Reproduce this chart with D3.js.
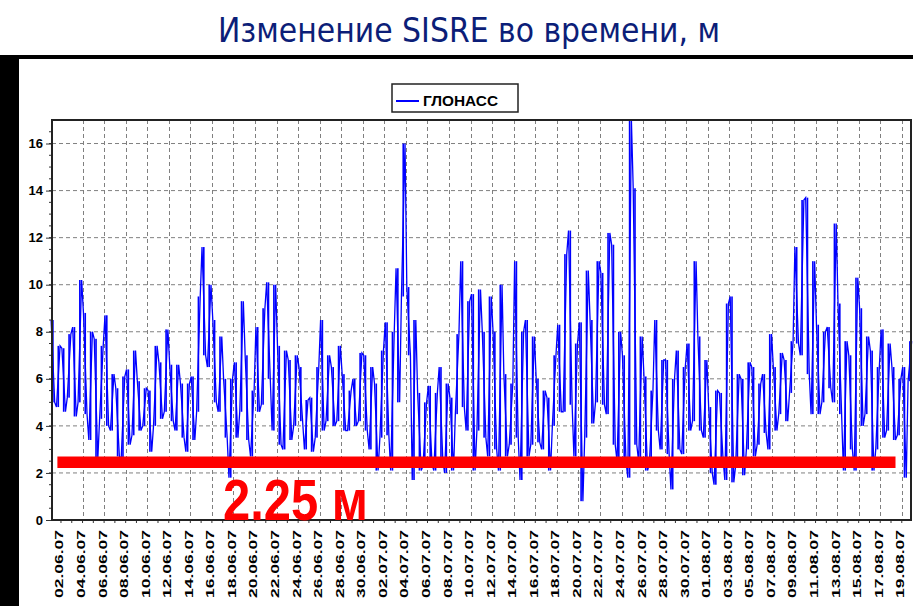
<!DOCTYPE html>
<html>
<head>
<meta charset="utf-8">
<script src="https://cdn.jsdelivr.net/npm/d3@7"></script>
<style>
  body { margin: 0; background: #fff; }
  svg { display: block; }
</style>
</head>
<body>
<svg id="chart" width="913" height="606"></svg>
<script>
// texts
var title = "Изменение SISRE во времени, м";
var seriesName = "ГЛОНАСС";
var refLabel = "2.25 м";

// time axis
var xStart = "01.06.07 04:00", xEnd = "19.08.07 20:30";
var dateLabels = ["02.06.07","04.06.07","06.06.07","08.06.07","10.06.07","12.06.07","14.06.07","16.06.07",
  "18.06.07","20.06.07","22.06.07","24.06.07","26.06.07","28.06.07","30.06.07","02.07.07","04.07.07",
  "06.07.07","08.07.07","10.07.07","12.07.07","14.07.07","16.07.07","18.07.07","20.07.07","22.07.07",
  "24.07.07","26.07.07","28.07.07","30.07.07","01.08.07","03.08.07","05.08.07","07.08.07","09.08.07",
  "11.08.07","13.08.07","15.08.07","17.08.07","19.08.07"];

// value axis
var yMax = 17;
var yTicks = [0, 2, 4, 6, 8, 10, 12, 14, 16];

// SISRE, read per half day: first sample time, step in hours, upper and lower values
var sampleStart = "01.06.07 06:00", sampleStepHours = 12;
var sisreHigh = [8.5,7.4,7.3,7.9,8.2,10.2,8.8,8.0,7.7,7.4,8.7,6.2,5.6,6.1,6.4,7.2,5.9,5.6,5.5,7.4,
  6.7,8.1,6.6,6.6,5.8,5.8,6.1,9.5,11.6,10.0,8.5,7.8,6.0,6.0,6.7,9.3,7.0,5.5,8.2,9.0,
  10.1,10.0,7.4,7.2,6.8,7.0,6.5,5.1,5.2,6.5,8.5,7.0,6.5,7.4,6.2,5.5,6.0,7.1,7.0,6.5,
  5.8,7.2,8.4,8.0,10.7,16.0,9.9,8.5,5.4,5.0,5.7,5.4,6.5,5.8,5.2,7.9,11.0,9.3,9.6,9.8,
  8.0,9.5,8.0,10.0,6.2,5.8,11.0,8.0,8.5,7.8,6.0,5.5,5.2,7.0,8.3,11.3,12.3,7.5,8.4,10.6,
  8.5,11.0,10.5,12.2,11.7,8.0,7.0,17.0,14.1,7.8,6.1,5.5,8.5,6.8,6.8,6.0,7.2,6.5,7.5,11.0,
  7.8,6.8,4.8,5.5,5.4,9.2,9.5,6.2,6.0,6.7,6.5,5.8,6.2,7.9,6.5,7.1,6.8,7.6,11.6,13.6,
  13.7,11.0,8.3,8.0,8.2,12.6,9.2,7.6,7.0,10.3,9.0,7.8,7.2,6.5,8.1,7.5,6.5,6.0,6.5,7.6];
var sisreLow = [5.0,4.8,4.6,5.2,4.4,5.0,4.5,3.4,2.6,4.3,4.0,3.8,2.7,2.6,3.2,3.6,3.8,4.0,2.9,4.0,
  4.3,4.6,4.2,3.8,3.5,2.9,3.4,4.6,7.0,6.5,5.0,4.6,3.5,1.8,3.5,4.6,3.4,2.7,4.6,4.9,
  6.0,3.8,3.2,3.0,3.4,4.0,4.2,3.0,2.9,3.5,3.8,4.2,4.0,4.2,3.8,3.8,4.0,4.2,3.8,3.0,
  2.1,3.5,3.6,2.1,5.0,9.5,7.0,1.7,2.1,2.3,2.4,2.1,2.6,2.0,2.1,4.5,4.8,3.8,2.1,3.8,
  3.5,2.7,3.0,2.1,2.7,3.2,3.5,1.7,2.7,3.2,3.3,3.0,2.1,4.0,4.6,4.6,4.9,2.7,0.8,3.5,
  4.1,5.0,4.9,4.5,3.2,2.5,2.5,1.8,3.2,2.5,2.1,2.4,3.8,3.0,2.8,1.3,3.0,2.8,3.8,4.2,
  3.8,3.5,2.0,1.5,2.6,1.7,1.6,2.3,1.9,3.0,2.7,3.2,3.7,3.0,3.8,4.5,4.2,5.4,7.5,7.0,
  6.2,4.5,4.5,5.0,5.6,5.0,4.5,2.1,3.0,2.1,4.0,4.5,2.1,3.0,3.5,3.8,3.4,3.6,1.8,5.9];

// reference level drawn by hand
var refLevel = 2.45;
var refFrom = "01.06.07 16:00", refTo = "18.08.07 10:00";

var parseTime = d3.timeParse("%d.%m.%y %H:%M");
var parseDay = d3.timeParse("%d.%m.%y");

var svg = d3.select("#chart");

// frame and title
svg.append("rect").attr("x", 0).attr("y", 55).attr("width", 913).attr("height", 551).attr("fill", "#000");
svg.append("rect").attr("x", 19).attr("y", 59).attr("width", 894).attr("height", 547).attr("fill", "#fff");
svg.append("text")
  .attr("x", 218).attr("y", 42)
  .attr("textLength", 502).attr("lengthAdjust", "spacingAndGlyphs")
  .style("font-family", "'Liberation Sans Narrow', 'DejaVu Sans Condensed', 'Liberation Sans', sans-serif")
  .style("font-size", "34px")
  .attr("fill", "#0c1e78")
  .text(title);

var plot = {left: 52, right: 911, top: 120, bottom: 520};

var x = d3.scaleTime()
  .domain([parseTime(xStart), parseTime(xEnd)])
  .range([plot.left, plot.right]);
var y = d3.scaleLinear()
  .domain([0, yMax])
  .range([plot.bottom, plot.top]);

var g = svg.append("g");

// grid
g.selectAll(".hgrid").data(yTicks.slice(1)).enter().append("line")
  .attr("x1", plot.left).attr("x2", plot.right)
  .attr("y1", function(d) { return y(d); }).attr("y2", function(d) { return y(d); })
  .attr("stroke", "#808080").attr("stroke-dasharray", "4,3");
g.selectAll(".vgrid").data(dateLabels.slice(1)).enter().append("line")
  .attr("x1", function(d) { return Math.round(x(parseDay(d))) + 0.5; })
  .attr("x2", function(d) { return Math.round(x(parseDay(d))) + 0.5; })
  .attr("y1", plot.top).attr("y2", plot.bottom)
  .attr("stroke", "#808080").attr("stroke-dasharray", "4,3");

// series: each half day is a bundle of strokes between its upper and lower value
var t0 = parseTime(sampleStart);
var samples = sisreHigh.map(function(h, i) {
  return {t: d3.timeHour.offset(t0, i * sampleStepHours), hi: h, lo: sisreLow[i]};
});
var halfW = (x(d3.timeHour.offset(t0, sampleStepHours)) - x(t0)) / 2;
g.selectAll(".band").data(samples).enter().append("rect")
  .attr("x", function(d) { return x(d.t) - halfW * 0.3; })
  .attr("width", halfW * 0.6)
  .attr("y", function(d) { return y(d.hi); })
  .attr("height", function(d) { return y(d.lo) - y(d.hi); })
  .attr("fill", "#0000ff");
var pts = [];
samples.forEach(function(s, i) {
  var a = d3.timeHour.offset(s.t, -4), b = d3.timeHour.offset(s.t, 4);
  if (i % 2 == 0) {
    pts.push([a, s.hi]); pts.push([b, s.lo]);
  } else {
    pts.push([a, s.lo]); pts.push([b, s.hi]);
  }
});
var line = d3.line()
  .x(function(d) { return x(d[0]); })
  .y(function(d) { return y(d[1]); });
g.append("path")
  .datum(pts)
  .attr("d", line)
  .attr("fill", "none")
  .attr("stroke", "#0000ff")
  .attr("stroke-width", 1.3);

// axes frame
var yAxis = d3.axisLeft(y).tickValues(yTicks).tickSize(6).tickPadding(3);
var yAx = g.append("g").attr("transform", "translate(" + plot.left + ",0)").call(yAxis);
yAx.select(".domain").remove();
yAx.selectAll("text")
  .style("font-family", "'Liberation Sans', Arial, sans-serif")
  .style("font-size", "13px").style("font-weight", "bold").attr("fill", "#000");
yAx.selectAll("line").attr("stroke", "#333");

// minor ticks
g.selectAll(".ymin").data(d3.range(1, yMax * 2).map(function(k) { return k / 2; })).enter().append("line")
  .attr("x1", plot.left - 3).attr("x2", plot.left)
  .attr("y1", function(d) { return y(d); }).attr("y2", function(d) { return y(d); })
  .attr("stroke", "#333");
g.selectAll(".xmin").data(d3.timeDay.range(parseTime(xStart), parseTime(xEnd))).enter().append("line")
  .attr("x1", function(d) { return x(d); }).attr("x2", function(d) { return x(d); })
  .attr("y1", plot.bottom).attr("y2", plot.bottom + 3)
  .attr("stroke", "#333");

g.append("rect")
  .attr("x", plot.left).attr("y", plot.top)
  .attr("width", plot.right - plot.left).attr("height", plot.bottom - plot.top)
  .attr("fill", "none").attr("stroke", "#222").attr("stroke-width", 2);

// date labels
g.selectAll(".xlab").data(dateLabels).enter().append("text")
  .attr("transform", function(d) {
    return "translate(" + (x(parseDay(d)) - 1.5) + ",598) rotate(-90)";
  })
  .attr("dy", "0.36em")
  .attr("textLength", 68).attr("lengthAdjust", "spacingAndGlyphs")
  .style("font-family", "'Liberation Sans', Arial, sans-serif")
  .style("font-size", "11px").style("font-weight", "bold")
  .text(function(d) { return d; });

// reference level
g.append("line")
  .attr("x1", x(parseTime(refFrom))).attr("x2", x(parseTime(refTo)))
  .attr("y1", y(refLevel)).attr("y2", y(refLevel))
  .attr("stroke", "#ff0000").attr("stroke-width", 11.5);
g.append("text")
  .attr("x", 223).attr("y", plot.bottom)
  .attr("textLength", 145).attr("lengthAdjust", "spacingAndGlyphs")
  .style("font-family", "'Liberation Sans', Arial, sans-serif")
  .style("font-size", "57px").style("font-weight", "bold")
  .attr("fill", "#ff0000")
  .text(refLabel);

// legend
var lg = svg.append("g").attr("transform", "translate(392,84)");
lg.append("rect").attr("width", 126).attr("height", 28)
  .attr("fill", "#fff").attr("stroke", "#222").attr("stroke-width", 1.5);
lg.append("line").attr("x1", 4).attr("x2", 27).attr("y1", 17).attr("y2", 17)
  .attr("stroke", "#0000ff").attr("stroke-width", 2);
lg.append("text").attr("x", 31).attr("y", 22)
  .attr("textLength", 75).attr("lengthAdjust", "spacingAndGlyphs")
  .style("font-family", "'Liberation Sans', Arial, sans-serif")
  .style("font-size", "14px").style("font-weight", "bold")
  .text(seriesName);
</script>
</body>
</html>
